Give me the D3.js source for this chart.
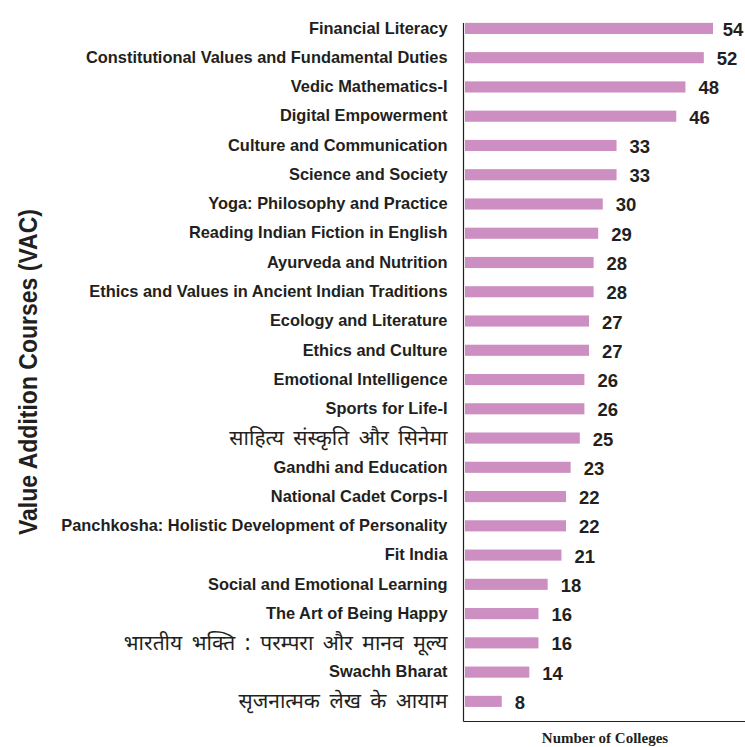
<!DOCTYPE html>
<html><head><meta charset="utf-8">
<script src="https://cdn.jsdelivr.net/npm/d3@7"></script>
<style>
html,body{margin:0;padding:0;background:#fff;}
svg{display:block;}
</style></head>
<body>
<svg id="chart" width="745" height="747"></svg>
<script>
const courses = [
  "Financial Literacy",
  "Constitutional Values and Fundamental Duties",
  "Vedic Mathematics-I",
  "Digital Empowerment",
  "Culture and Communication",
  "Science and Society",
  "Yoga: Philosophy and Practice",
  "Reading Indian Fiction in English",
  "Ayurveda and Nutrition",
  "Ethics and Values in Ancient Indian Traditions",
  "Ecology and Literature",
  "Ethics and Culture",
  "Emotional Intelligence",
  "Sports for Life-I",
  "साहित्य संस्कृति और सिनेमा",
  "Gandhi and Education",
  "National Cadet Corps-I",
  "Panchkosha: Holistic Development of Personality",
  "Fit India",
  "Social and Emotional Learning",
  "The Art of Being Happy",
  "भारतीय भक्ति : परम्परा और मानव मूल्य",
  "Swachh Bharat",
  "सृजनात्मक लेख के आयाम"
];
const colleges = [54,52,48,46,33,33,30,29,28,28,27,27,26,26,25,23,22,22,21,18,16,16,14,8];
const yTitle = "Value Addition Courses (VAC)";
const xTitle = "Number of Colleges";

const svg = d3.select("#chart");
const W = 745;
const axisX = 463.5, axisBottomY = 721.5;

const y = d3.scaleBand().domain(courses).range([13.8, 716]).paddingInner(0.62).paddingOuter(0.31);
const x = d3.scaleLinear().domain([0, 54]).range([465, 713]);

const isDeva = s => /[\u0900-\u097F]/.test(s);

// bars
svg.append("g").selectAll("rect").data(courses).join("rect")
  .attr("x", x(0))
  .attr("y", d => y(d))
  .attr("width", (d,i) => x(colleges[i]) - x(0))
  .attr("height", y.bandwidth())
  .attr("fill", "#cd8fc1");

// value labels
svg.append("g").selectAll("text").data(courses).join("text")
  .attr("x", (d,i) => x(colleges[i]) + 13)
  .attr("y", d => y(d) + y.bandwidth()/2 + 7.5)
  .attr("font-family", "'Liberation Sans', Arial, sans-serif")
  .attr("font-weight", "bold")
  .attr("font-size", 18.5)
  .attr("fill", "#231f20")
  .text((d,i) => colleges[i])
  .each(function() {
    const bb = this.getBBox();
    if (bb.x + bb.width > W - 1) d3.select(this).attr("x", W - 1 - bb.width);
  });

// left axis (labels)
const yAxis = d3.axisLeft(y).tickSize(0).tickPadding(16);
const gy = svg.append("g").attr("transform", `translate(${axisX},0)`).call(yAxis);
gy.select(".domain").remove();
gy.selectAll(".tick text")
  .attr("fill", "#231f20")
  .attr("font-family", d => isDeva(d) ? "'Noto Sans Devanagari','Lohit Devanagari','Noto Sans',sans-serif" : "'Liberation Sans', Arial, sans-serif")
  .attr("font-weight", d => isDeva(d) ? "normal" : "bold")
  .attr("font-size", d => isDeva(d) ? 21 : 16.4)
  .attr("word-spacing", d => isDeva(d) ? 4 : 0);

// axis lines
svg.append("line").attr("x1", axisX).attr("x2", axisX).attr("y1", 23).attr("y2", axisBottomY)
  .attr("stroke", "#231f20").attr("stroke-width", 1.2);
svg.append("line").attr("x1", axisX).attr("x2", W).attr("y1", axisBottomY).attr("y2", axisBottomY)
  .attr("stroke", "#231f20").attr("stroke-width", 1.2);

// titles
svg.append("text")
  .attr("transform", "translate(37,372) rotate(-90)")
  .attr("text-anchor", "middle")
  .attr("font-family", "'Liberation Sans', Arial, sans-serif")
  .attr("font-weight", "bold")
  .attr("font-size", 25)
  .attr("textLength", 326)
  .attr("lengthAdjust", "spacingAndGlyphs")
  .attr("fill", "#231f20")
  .text(yTitle);

svg.append("text")
  .attr("x", 605).attr("y", 743)
  .attr("text-anchor", "middle")
  .attr("font-family", "'Liberation Serif','Times New Roman',serif")
  .attr("font-weight", "bold")
  .attr("font-size", 15)
  .attr("fill", "#231f20")
  .text(xTitle);
</script>
</body></html>
